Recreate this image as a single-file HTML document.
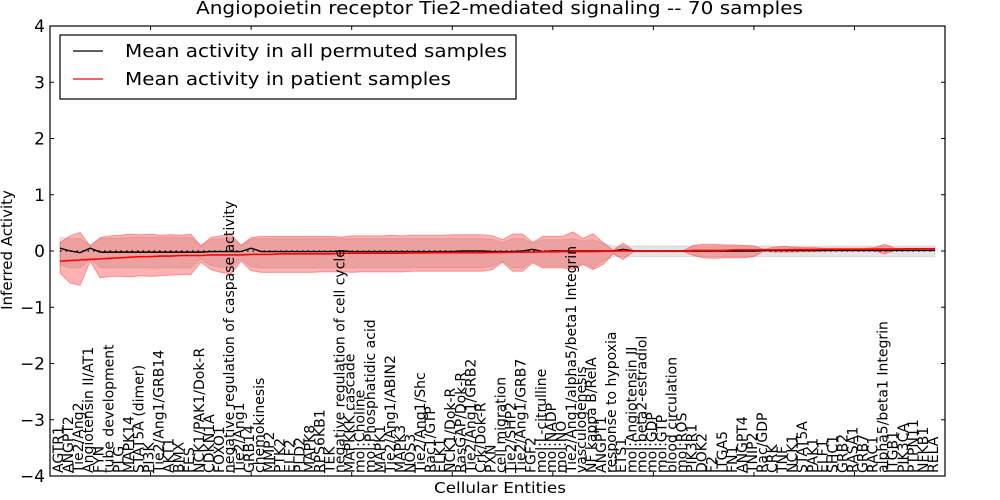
<!DOCTYPE html>
<html><head><meta charset="utf-8"><style>
body{margin:0;background:#fff;}
svg{display:block;font-family:"DejaVu Sans","Liberation Sans",sans-serif;}
</style></head><body>
<svg id="chart" width="1000" height="500" viewBox="0 0 1000 500">
<text x="196" y="14" font-size="18" textLength="607" lengthAdjust="spacingAndGlyphs">Angiopoietin receptor Tie2-mediated signaling -- 70 samples</text>
<text x="12" y="250" text-anchor="middle" font-size="15" transform="rotate(-90 12 250)">Inferred Activity</text>
<text x="434" y="493" font-size="15" textLength="132" lengthAdjust="spacingAndGlyphs">Cellular Entities</text>
<g id="plot"></g>
</svg>
<script>
const categories=["AGTR1","ANGPT2","Tie2/Ang2","Angiotensin II/AT1","FYN","tube development","PLG","MAPK14","STAT5A (dimer)","PI3K","Tie2/Ang1/GRB14","AKT1","BMX","FES","NCK1/PAK1/Dok-R","CDKN1A","FOXO1","negative regulation of caspase activity","Tie2/Ang1","GRB14","chemokinesis","MMP2","PTK2","ELF2","PLD2","MAPK8","RPS6KB1","TEK","negative regulation of cell cycle","MAPKKK cascade","mol:Choline","mol:Phosphatidic acid","MAPK1","Tie2/Ang1/ABIN2","MAPK3","NOS3","Tie2/Ang1/Shc","Rac1/GTP","ELK1","NCK1/Dok-R","RasGAP/Dok-R","Tie2/Ang1/GRB2","Crk/Dok-R","PXN","cell migration","Tie2/SHP2","Tie2/Ang1/GRB7","FGF2","mol:L-citrulline","mol:NADP","mol:NO","Tie2/Ang1/alpha5/beta1 Integrin","vasculogenesis","NF kappa B/RelA","ANGPT1","response to hypoxia","ETS1","mol:Angiotensin II","mol:beta2-estradiol","mol:GDP","mol:GTP","blood circulation","mol:ROS","PIK3R1","DOK2","F2","ITGA5","FN1","ANGPT4","TNIP2","Rac/GDP","CRK","TNF","NCK1","STAT5A","PAK1","ELF1","SHC1","GRB2","RASA1","GRB7","RAC1","alpha5/beta1 Integrin","ITGB1","PIK3CA","PTPN11","NFKB1","RELA"];
const patUp=[.15,.27,.33,.09,.24,.27,.28,.30,.29,.30,.28,.29,.28,.30,.09,.24,.27,.30,.10,.24,.26,.26,.26,.26,.26,.26,.26,.26,.25,.27,.27,.27,.27,.28,.27,.28,.28,.28,.28,.29,.29,.29,.29,.27,.20,.30,.30,.15,.26,.26,.26,.34,.22,.31,.15,.01,.14,.01,.01,.01,.01,.01,.01,.10,.12,.12,.11,.11,.10,.09,.03,.07,.08,.07,.06,.06,.05,.05,.05,.05,.05,.06,.12,.05,.05,.05,.05,.05];
const patLow=[-.39,-.57,-.61,-.18,-.48,-.45,-.45,-.46,-.44,-.45,-.44,-.43,-.42,-.42,-.20,-.33,-.38,-.41,-.18,-.35,-.38,-.38,-.38,-.38,-.38,-.38,-.37,-.37,-.37,-.38,-.37,-.37,-.37,-.37,-.37,-.36,-.36,-.36,-.36,-.36,-.36,-.36,-.36,-.33,-.20,-.36,-.36,-.21,-.30,-.30,-.30,-.33,-.24,-.33,-.24,-.05,-.15,-.01,-.01,-.01,-.01,-.01,-.01,-.08,-.12,-.13,-.12,-.12,-.12,-.10,0,-.02,-.02,-.02,-.01,-.01,0,0,0,0,0,0,-.05,.01,.01,.01,.01,.01];
const patMean=[-.18,-.17,-.16,-.15,-.14,-.13,-.12,-.11,-.10,-.10,-.09,-.09,-.08,-.08,-.08,-.07,-.07,-.07,-.07,-.06,-.06,-.06,-.05,-.05,-.05,-.05,-.05,-.05,-.04,-.04,-.04,-.04,-.04,-.04,-.04,-.035,-.035,-.03,-.03,-.03,-.03,-.03,-.03,-.025,-.025,-.02,-.02,-.02,-.015,-.015,-.01,-.01,-.01,-.01,-.005,0,0,0,0,0,0,0,0,.01,.01,.01,.01,.02,.02,.02,.02,.02,.02,.025,.025,.025,.03,.03,.03,.03,.03,.035,.035,.035,.04,.04,.04,.04];
const permMean=[.05,0,-.03,.05,-.02,-.02,-.02,-.02,-.02,-.02,-.02,-.02,-.02,-.02,-.02,-.01,-.01,-.01,-.01,.05,-.01,-.01,-.01,-.01,-.01,-.01,-.01,-.01,0,-.01,-.01,-.01,-.01,-.01,-.01,-.01,-.01,-.01,-.01,-.01,0,0,0,-.01,-.01,-.01,0,.03,-.01,0,0,0,0,0,0,0,.03,0,0,0,0,0,0,0,0,0,0,0,0,0,.01,.01,.01,.01,.01,.01,.01,.01,.01,.01,.01,.01,.01,.01,.01,.01,.01,.01];
const permUp=[.25,.22,.22,.10,.22,.23,.23,.24,.24,.24,.24,.24,.24,.24,.10,.20,.22,.23,.10,.21,.22,.22,.22,.22,.22,.22,.22,.22,.22,.22,.22,.22,.22,.22,.22,.22,.22,.22,.22,.22,.22,.22,.22,.21,.15,.22,.22,.14,.20,.20,.20,.22,.18,.20,.14,.09,.09,.09,.09,.09,.09,.09,.09,.09,.09,.09,.09,.09,.09,.09,.09,.09,.09,.09,.09,.09,.09,.09,.09,.09,.09,.09,.09,.09,.09,.09,.09,.09];
const permLow=[-.25,-.30,-.30,-.14,-.30,-.30,-.30,-.30,-.30,-.30,-.30,-.30,-.30,-.30,-.14,-.26,-.29,-.30,-.14,-.28,-.30,-.30,-.30,-.30,-.30,-.30,-.30,-.30,-.30,-.30,-.30,-.30,-.30,-.30,-.30,-.30,-.30,-.30,-.30,-.30,-.30,-.30,-.30,-.28,-.18,-.30,-.30,-.18,-.27,-.27,-.27,-.30,-.22,-.30,-.18,-.10,-.10,-.10,-.10,-.10,-.10,-.10,-.10,-.10,-.10,-.10,-.10,-.10,-.10,-.10,-.10,-.10,-.10,-.10,-.10,-.10,-.10,-.10,-.10,-.10,-.10,-.10,-.10,-.10,-.10,-.10,-.10,-.10];
const yTicks=[-4,-3,-2,-1,0,1,2,3,4];

const L=50,R=945,T=26,B=476;
const x=i=>L+(i+1)*(R-L)/(categories.length+1);
const y=v=>T+(4-v)*(B-T)/8;
const NS="http://www.w3.org/2000/svg";
const g=document.getElementById('plot');
function mk(tag,attrs){const e=document.createElementNS(NS,tag);for(const k in attrs)e.setAttribute(k,attrs[k]);g.appendChild(e);return e;}
function band(up,low,fill,stroke){let d='';up.forEach((v,i)=>d+=(i?'L':'M')+x(i)+','+y(v));for(let i=low.length-1;i>=0;i--)d+='L'+x(i)+','+y(low[i]);return mk('path',{d:d+'Z',fill:fill,stroke:stroke,'stroke-width':1});}
function line(arr,color,w){let d='';arr.forEach((v,i)=>d+=(i?'L':'M')+x(i)+','+y(v));return mk('path',{d:d,fill:'none',stroke:color,'stroke-width':w});}

const gb=band(permUp,permLow,'rgba(150,150,150,0.25)','rgba(150,150,150,0.25)');


const rb=band(patUp,patLow,'rgba(255,0,0,0.3)','rgba(255,0,0,0.35)');


const zl=mk('line',{x1:x(0),x2:x(categories.length-1),y1:y(0),y2:y(0),stroke:'#000','stroke-dasharray':'1.5,4','stroke-width':1.2});


const pm=line(permMean,'#000',1.4);


const ptl=line(patMean,'#f00',1.6);



const fr=mk('rect',{x:L,y:T,width:R-L,height:B-T,fill:'none',stroke:'#000','stroke-width':1.2});



yTicks.forEach(v=>{
  const t1=mk('line',{x1:L,x2:L+4,y1:y(v),y2:y(v),stroke:'#000'});
  
  
  const t2=mk('line',{x1:R-4,x2:R,y1:y(v),y2:y(v),stroke:'#000'});
  
  
  const tl=mk('text',{x:L-5,y:y(v)+6,'text-anchor':'end','font-size':17});
  tl.textContent=(v<0?'\u2212'+(-v):String(v));
  
  
});
for(let k=10;k<categories.length;k+=10){
  const xx=L+k*(R-L)/(categories.length+1);
  const t=mk('line',{x1:xx,x2:xx,y1:T,y2:T+4,stroke:'#000'});
  
  
  const tb=mk('line',{x1:xx,x2:xx,y1:B-4,y2:B,stroke:'#000'});
  
  
}
categories.forEach((c,i)=>{
  const xx=x(i)+3, yy=B-3;
  const t=mk('text',{x:xx,y:yy,'font-size':14,transform:`rotate(-90 ${xx} ${yy})`});
  t.textContent=c;
  
  
});

const lg=mk('rect',{x:60,y:35,width:456,height:64,fill:'#fff',stroke:'#000','stroke-width':1.2});


const l1=mk('line',{x1:73,x2:103,y1:51,y2:51,stroke:'#000','stroke-width':1.2});


const t1=mk('text',{x:125,y:57,'font-size':18,textLength:382,lengthAdjust:'spacingAndGlyphs'});
t1.textContent='Mean activity in all permuted samples';


const l2=mk('line',{x1:73,x2:103,y1:79,y2:79,stroke:'#f00','stroke-width':1.2});


const t2=mk('text',{x:125,y:85,'font-size':18,textLength:326,lengthAdjust:'spacingAndGlyphs'});
t2.textContent='Mean activity in patient samples';


</script>
</body></html>
